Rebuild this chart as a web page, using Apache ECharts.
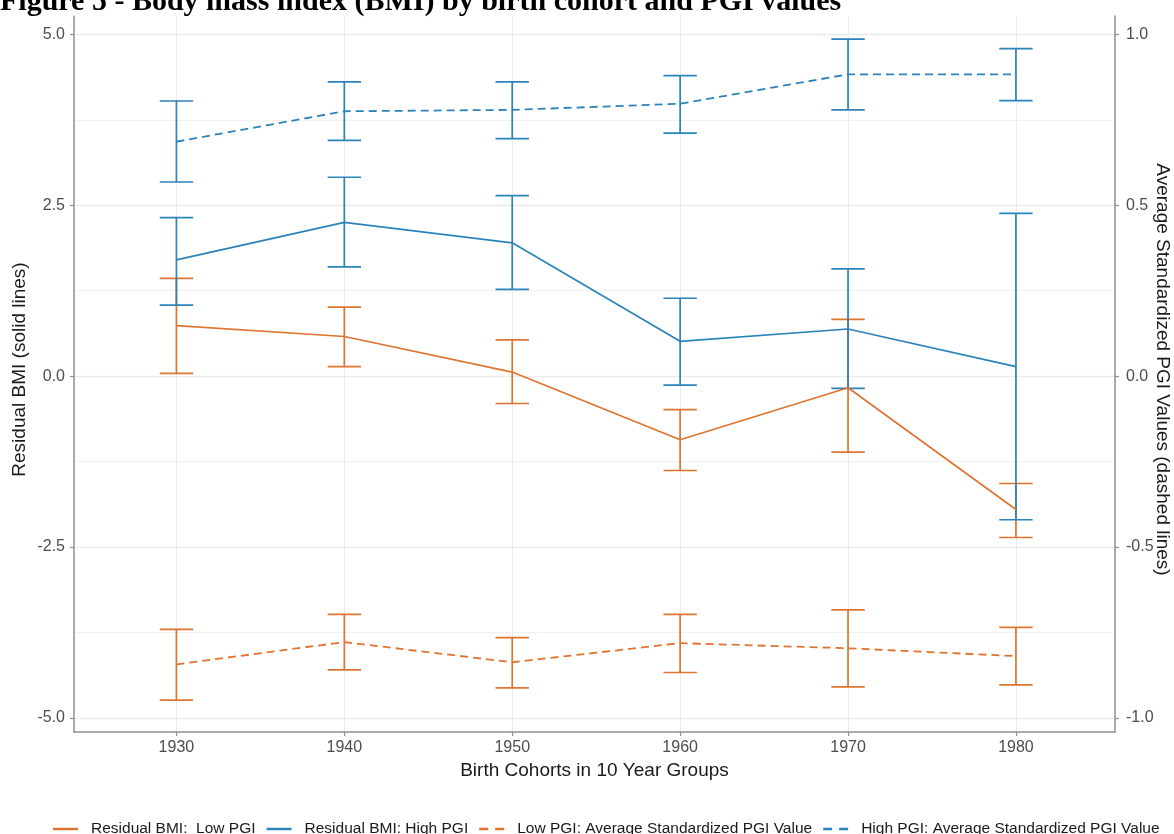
<!DOCTYPE html>
<html>
<head>
<meta charset="utf-8">
<title>Body mass index (BMI) by birth cohort and PGI values</title>
<script src="https://cdn.jsdelivr.net/npm/echarts@6/dist/echarts.min.js"></script>
<style>
  html, body { margin: 0; padding: 0; background: #ffffff; }
  #chart { width: 1174px; height: 834px; }
</style>
</head>
<body>
<div id="chart"></div>
<script>
// Birth cohorts (10-year groups)
const cohorts = [1930, 1940, 1950, 1960, 1970, 1980];

// Residual BMI, low PGI group (left axis)
const bmiLow   = [0.74, 0.58, 0.06, -0.93, -0.17, -1.95];
const bmiLowLo = [0.04, 0.14, -0.40, -1.38, -1.11, -2.36];
const bmiLowHi = [1.43, 1.01, 0.53, -0.49, 0.83, -1.57];

// Residual BMI, high PGI group (left axis)
const bmiHigh   = [1.70, 2.25, 1.95, 0.51, 0.69, 0.14];
const bmiHighLo = [1.04, 1.60, 1.27, -0.13, -0.18, -2.10];
const bmiHighHi = [2.32, 2.91, 2.64, 1.14, 1.57, 2.38];

// Average standardized PGI value, low PGI group (right axis)
const pgiLow   = [-0.843, -0.778, -0.837, -0.781, -0.796, -0.819];
const pgiLowLo = [-0.948, -0.859, -0.912, -0.867, -0.909, -0.903];
const pgiLowHi = [-0.741, -0.697, -0.765, -0.697, -0.684, -0.735];

// Average standardized PGI value, high PGI group (right axis)
const pgiHigh   = [0.686, 0.775, 0.779, 0.797, 0.883, 0.883];
const pgiHighLo = [0.568, 0.690, 0.695, 0.711, 0.779, 0.806];
const pgiHighHi = [0.805, 0.861, 0.861, 0.879, 0.986, 0.958];

// Axis ticks
const leftTicks  = [-5, -2.5, 0, 2.5, 5];
const leftMinor  = [-3.75, -1.25, 1.25, 3.75];
const rightTicks = [-1, -0.5, 0, 0.5, 1];

const seriesNames = [
  'Residual BMI:  Low PGI',
  'Residual BMI: High PGI',
  'Low PGI: Average Standardized PGI Value',
  'High PGI: Average Standardized PGI Value'
];

const ORANGE = '#de7430';
const BLUE = '#2b83ba';
const FONT = 'Liberation Sans, Arial, Helvetica, sans-serif';

// Left scale; the right scale is the left one divided by 5
const LEFT_MIN = -5.205, LEFT_MAX = 5.40;
const RIGHT_MIN = LEFT_MIN / 5, RIGHT_MAX = LEFT_MAX / 5;

// Legend keys: a solid stroke and a two-dash stroke
const SOLID_KEY = 'path://M0,0H25V2.4H0Z';
const DASHED_KEY = 'path://M0,0H9V2.4H0ZM16,0H25V2.4H16Z';

function pairs(ys) { return cohorts.map((x, i) => [x, ys[i]]); }
function bars(lo, hi) { return cohorts.map((x, i) => [x, lo[i], hi[i]]); }

function errorBar(color) {
  const half = 16.7; // cap half-width in px
  return function (params, api) {
    const x = api.value(0);
    const a = api.coord([x, api.value(1)]);
    const b = api.coord([x, api.value(2)]);
    const st = { stroke: color, lineWidth: 1.7 };
    return {
      type: 'group',
      children: [
        { type: 'line', shape: { x1: a[0], y1: a[1], x2: b[0], y2: b[1] }, style: st },
        { type: 'line', shape: { x1: a[0] - half, y1: a[1], x2: a[0] + half, y2: a[1] }, style: st },
        { type: 'line', shape: { x1: b[0] - half, y1: b[1], x2: b[0] + half, y2: b[1] }, style: st }
      ]
    };
  };
}

function lineSeries(name, data, color, yIndex, dashed) {
  return {
    name: name,
    type: 'line',
    yAxisIndex: yIndex,
    data: data,
    symbol: 'none',
    silent: true,
    z: 3,
    lineStyle: { color: color, width: dashed ? 1.8 : 1.7, type: dashed ? [8, 5] : 'solid' },
    itemStyle: { color: color }
  };
}

function barSeries(lo, hi, color, yIndex) {
  return {
    type: 'custom',
    yAxisIndex: yIndex,
    renderItem: errorBar(color),
    data: bars(lo, hi),
    encode: { x: 0, y: [1, 2] },
    silent: true,
    z: 2
  };
}

const axisGray = '#8f8f8f';
const tickLabel = { color: '#4d4d4d', fontSize: 16, fontFamily: FONT };
const axisTitle = { color: '#1a1a1a', fontSize: 19, fontFamily: FONT };

const chart = echarts.init(document.getElementById('chart'), null, { renderer: 'canvas' });

chart.setOption({
  animation: false,
  backgroundColor: '#ffffff',
  grid: { left: 74, right: 59, top: 7, bottom: 102, containLabel: false, outerBoundsMode: 'none' },
  legend: {
    data: [
      { name: seriesNames[0], icon: SOLID_KEY },
      { name: seriesNames[1], icon: SOLID_KEY },
      { name: seriesNames[2], icon: DASHED_KEY },
      { name: seriesNames[3], icon: DASHED_KEY }
    ],
    left: 48,
    top: 816,
    itemWidth: 25,
    itemHeight: 2.4,
    itemGap: 11,
    textStyle: { color: '#1a1a1a', fontSize: 15.5, fontFamily: FONT, padding: [0, 0, 0, 8] },
    selectedMode: false
  },
  xAxis: {
    type: 'value',
    min: 1923.9,
    max: 1985.9,
    name: 'Birth Cohorts in 10 Year Groups',
    nameLocation: 'middle',
    nameGap: 26,
    nameTextStyle: axisTitle,
    axisLine: { show: true, onZero: false, lineStyle: { color: axisGray, width: 1.5 } },
    axisTick: { show: true, length: 4, lineStyle: { color: axisGray, width: 1.2 }, customValues: cohorts },
    axisLabel: { margin: 8, ...tickLabel, customValues: cohorts, formatter: v => String(v) },
    splitLine: { show: true, lineStyle: { color: '#ebebeb', width: 1 } }
  },
  yAxis: [
    {
      type: 'value',
      position: 'left',
      min: LEFT_MIN,
      max: LEFT_MAX,
      name: 'Residual BMI (solid lines)',
      nameLocation: 'middle',
      nameGap: 45,
      nameMoveOverlap: false,
      nameTextStyle: axisTitle,
      axisLine: { show: true, onZero: false, lineStyle: { color: axisGray, width: 1.5 } },
      axisTick: { show: true, length: 4, lineStyle: { color: axisGray, width: 1.2 }, customValues: leftTicks },
      axisLabel: { margin: 9, ...tickLabel, customValues: leftTicks, formatter: v => v.toFixed(1) },
      splitLine: { show: true, lineStyle: { color: '#ebebeb', width: 1.4 } }
    },
    {
      type: 'value',
      position: 'right',
      min: RIGHT_MIN,
      max: RIGHT_MAX,
      name: 'Average Standardized PGI Values (dashed lines)',
      nameLocation: 'middle',
      nameRotate: -90,
      nameGap: 38,
      nameMoveOverlap: false,
      nameTextStyle: axisTitle,
      axisLine: { show: true, onZero: false, lineStyle: { color: axisGray, width: 1.5 } },
      axisTick: { show: true, length: 4, lineStyle: { color: axisGray, width: 1.2 }, customValues: rightTicks },
      axisLabel: { margin: 11, ...tickLabel, customValues: rightTicks, formatter: v => v.toFixed(1) },
      splitLine: { show: false }
    },
    {
      // minor horizontal grid lines
      type: 'value',
      position: 'left',
      min: LEFT_MIN,
      max: LEFT_MAX,
      axisLine: { show: false },
      axisTick: { show: false, customValues: leftMinor },
      axisLabel: { show: false, customValues: leftMinor },
      splitLine: { show: true, lineStyle: { color: '#f1f1f1', width: 1 } }
    }
  ],
  series: [
    barSeries(bmiLowLo, bmiLowHi, ORANGE, 0),
    barSeries(bmiHighLo, bmiHighHi, BLUE, 0),
    barSeries(pgiLowLo, pgiLowHi, ORANGE, 1),
    barSeries(pgiHighLo, pgiHighHi, BLUE, 1),
    lineSeries(seriesNames[0], pairs(bmiLow), ORANGE, 0, false),
    lineSeries(seriesNames[1], pairs(bmiHigh), BLUE, 0, false),
    lineSeries(seriesNames[2], pairs(pgiLow), ORANGE, 1, true),
    lineSeries(seriesNames[3], pairs(pgiHigh), BLUE, 1, true)
  ],
  graphic: [
    { type: 'rect', left: 0, top: 0, z: 100, shape: { width: 1174, height: 15.5 }, style: { fill: '#ffffff' } },
    {
      type: 'text', x: 0, y: 2, z: 101,
      style: {
        text: 'Figure 5 - Body mass index (BMI) by birth cohort and PGI values',
        font: 'bold 30px "Liberation Serif", "Times New Roman", serif',
        fill: '#000000',
        verticalAlign: 'middle',
        align: 'left'
      }
    }
  ]
});
</script>
</body>
</html>
